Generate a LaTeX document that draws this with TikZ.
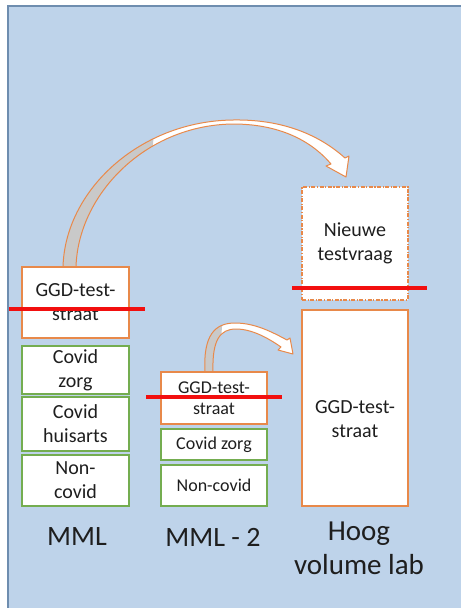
\documentclass[tikz,border=0pt]{standalone}
\usepackage{fontspec}
\setmainfont{Carlito}
\usetikzlibrary{calc}

\definecolor{bgblue}{HTML}{BED3EA}
\definecolor{bgedge}{HTML}{6E8DAF}
\definecolor{boxorange}{HTML}{E8894A}
\definecolor{boxgreen}{HTML}{74AD50}
\definecolor{cutred}{HTML}{F20F0F}
\definecolor{ink}{HTML}{1E1E1E}
\definecolor{backface}{HTML}{C9C9C9}

\tikzset{
  colbox/.style={fill=white, line width=1.4pt, inner sep=0pt, align=center,
    text=ink, minimum width=106pt},
  obox/.style={colbox, draw=boxorange},
  gbox/.style={colbox, draw=boxgreen},
  dashbox/.style={colbox, draw=boxorange, line width=1.2pt,
    dash pattern=on 4pt off 1.5pt on 1.2pt off 1.5pt},
  bigtxt/.style={font=\fontsize{20}{24}\selectfont},
  smalltxt/.style={font=\fontsize{18}{21.5}\selectfont},
  cut/.style={draw=cutred, line width=4pt},
  colname/.style={text=ink, font=\fontsize{28}{34}\selectfont, align=center, inner sep=0pt},
  band/.style={draw=boxorange, line width=1pt, line join=round},
}

\begin{document}
\begin{tikzpicture}[x=1pt,y=-1pt]
\useasboundingbox (0,0) rectangle (461,608);

% slide background with its top and left edge
\fill[bgblue] (8,6) rectangle (461,608);
\draw[bgedge, line width=1.5pt] (8,608) -- (8,6) -- (461,6);

% large curved block arrow: MML -> Hoog volume lab
\def\bigarrow{(63,267) .. controls (65,190) and (140,121) .. (233,120)
  .. controls (290,119) and (325,140) .. (345,158) -- (349,156) -- (346,177)
  -- (326,166) -- (331,164) .. controls (315,145) and (285,124) .. (233,124)
  .. controls (145,125) and (78,195) .. (76,267) -- cycle}
\fill[white] \bigarrow;
\begin{scope}
  \clip (0,300) -- (0,0) -- (165,0) -- (140,300) -- cycle;
  \fill[backface] \bigarrow;
\end{scope}
\draw[band] \bigarrow;

% small curved block arrow: MML - 2 -> Hoog volume lab
\def\smallarrow{(205,372) .. controls (203,335) and (215,323) .. (235,323)
  .. controls (255,323) and (272,332) .. (287,340) -- (290,338) -- (293,354)
  -- (278,350) -- (281,347) .. controls (268,338) and (252,329) .. (236,329)
  .. controls (220,329) and (212,340) .. (213,372) -- cycle}
\fill[white] \smallarrow;
\begin{scope}
  \clip (0,380) -- (0,300) -- (224,300) -- (218,380) -- cycle;
  \fill[backface] \smallarrow;
\end{scope}
\draw[band] \smallarrow;

% MML column
\node[obox, bigtxt, minimum width=107pt, minimum height=71pt] (mmlggd) at (75.5,302.5) {GGD-test-\\straat};
\node[gbox, bigtxt, minimum width=107pt, minimum height=48pt] (mmlzorg) at (75.5,370) {Covid\\zorg};
\node[gbox, bigtxt, minimum width=107pt, minimum height=54pt] (mmlha) at (75.5,424) {Covid\\huisarts};
\node[gbox, bigtxt, minimum width=107pt, minimum height=51pt] (mmlnon) at (75.5,480.5) {Non-\\covid};

% MML - 2 column
\node[obox, smalltxt, minimum height=52pt] (mtwoggd) at (214,398) {GGD-test-\\straat};
\node[gbox, smalltxt, minimum height=31pt] (mtwozorg) at (214,444.5) {Covid zorg};
\node[gbox, smalltxt, minimum height=41pt] (mtwonon) at (214,485.5) {Non-covid};

% Hoog volume lab column
\node[dashbox, bigtxt, minimum height=113pt] (hvlnew) at (355,243.5) {Nieuwe\\testvraag};
\node[obox, minimum height=196pt,
  label={[bigtxt, align=center, text=ink, yshift=-11.5pt]center:GGD-test-\\straat}] (hvlggd) at (355,408) {};

% strike-through lines
\draw[cut] ($(mmlggd.west)+(-12,6.5)$) -- ($(mmlggd.east)+(15,6.5)$);
\draw[cut] ($(mtwoggd.west)+(-14,-1)$) -- ($(mtwoggd.east)+(14,-1)$);
\draw[cut] ($(hvlnew.south west)+(-9,-13)$) -- ($(hvlnew.south east)+(18,-13)$);

% column names
\node[colname] (lblmml) at (77,537) {MML};
\node[colname] (lblmmltwo) at (213,537) {MML - 2};
\node[colname, font=\fontsize{29}{34}\selectfont] (lblhvl) at (359,548) {Hoog\\volume lab};
\end{tikzpicture}
\end{document}
